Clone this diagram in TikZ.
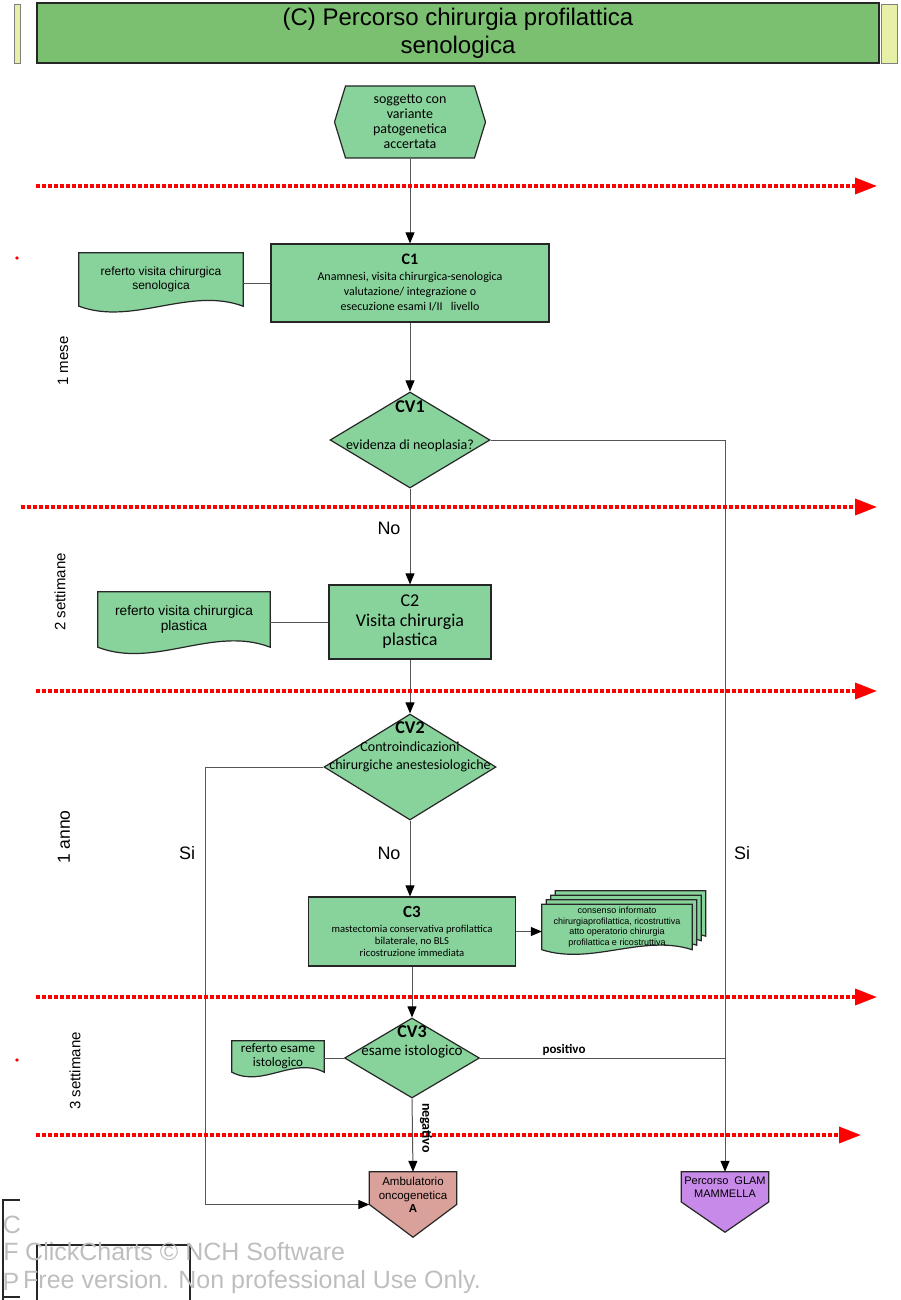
\documentclass[tikz,border=0pt]{standalone}
\usepackage{fontspec}
\setmainfont{Liberation Sans}
\newfontfamily\calib{Carlito}
\usepackage{tikz}
\usetikzlibrary{positioning,calc,arrows.meta,shapes.geometric,shapes.symbols,backgrounds}

\definecolor{boxgreen}{RGB}{136,210,155}
\definecolor{titlegreen}{RGB}{122,192,112}
\definecolor{sliver}{RGB}{232,240,168}
\definecolor{ambpink}{RGB}{218,160,154}
\definecolor{glampurple}{RGB}{200,138,232}
\definecolor{wmgray}{RGB}{190,190,190}
\definecolor{linegray}{RGB}{85,85,85}

% document shape with a wavy bottom, drawn behind node #2
\newcommand{\wavydoc}[3][0]{%
  \begin{pgfonlayer}{background}
  \filldraw[docshape] ($(#2.north west)+(#1,-#1)$) -- ($(#2.north east)+(#1,-#1)$) -- ($(#2.south east)+(#1,-#1)$)
    .. controls ($(#2.south east)!0.33!(#2.south west)+(#1,-#1-#3)$) and ($(#2.south east)!0.67!(#2.south west)+(#1,-#1+#3)$) .. ($(#2.south west)+(#1,-#1)$) -- cycle;
  \end{pgfonlayer}}
% off-page connector (pentagon pointing down)
\newcommand{\offpage}[2]{%
  \filldraw[draw=black!85,line width=1.2pt,fill=#2] (#1.north west) -- (#1.north east) -- (#1.east) -- (#1.south) -- (#1.west) -- cycle;}

\begin{document}
\begin{tikzpicture}[x=1pt,y=-1pt,>={Triangle[length=11pt,width=9pt,color=black]},
    box/.style={draw=black!85,line width=1.2pt,fill=boxgreen,align=center,inner sep=1pt,
      font=\calib\fontsize{12}{15}\selectfont},
    hexa/.style={signal,signal to=east and west,signal pointer angle=146,draw=black!85,line width=1.2pt,
      fill=boxgreen,align=center,inner sep=1pt,minimum width=151pt,minimum height=72pt,
      font=\calib\fontsize{14}{15}\selectfont},
    decision/.style={diamond,draw=black!85,line width=1.2pt,fill=boxgreen,inner sep=0pt},
    dectext/.style={align=center,font=\calib\fontsize{14}{18}\selectfont},
    dechead/.style={font=\calib\fontsize{18}{18}\selectfont\bfseries},
    doc/.style={align=center,inner sep=0pt,font=\fontsize{12}{13.5}\selectfont},
    docshape/.style={draw=black!85,line width=1.2pt,fill=boxgreen},
    exit/.style={inner sep=0pt,minimum width=87pt},
    exittext/.style={align=center,font=\fontsize{11.5}{13.5}\selectfont},
    link/.style={draw=linegray,line width=1pt},
    lbl/.style={font=\fontsize{18}{18}\selectfont},
    period/.style={rotate=90,font=\fontsize{15}{15}\selectfont},
    timeline/.style={draw=red,line width=3.5pt,dash pattern=on 3.5pt off 2.5pt,
      -{Triangle[length=22pt,width=16pt]}},
    wm/.style={text=wmgray,font=\fontsize{25}{30}\selectfont,inner sep=0pt}]
\useasboundingbox (0,0) rectangle (900,1300);

% title
\filldraw[fill=sliver,draw=gray] (14,4) rectangle (20,63);
\filldraw[fill=sliver,draw=gray] (881,4) rectangle (897,63);
\node[draw=black!85,line width=1.5pt,fill=titlegreen,minimum width=842pt,minimum height=60pt,
  align=center,font=\fontsize{24}{28}\selectfont] (title) at (458,33)
  {(C) Percorso chirurgia profilattica\\senologica};

% main column
\node[hexa] (start) at (410,122) {soggetto con\\variante\\patogenetica\\accertata};
\node[box,minimum width=278pt,minimum height=78pt] (c1) at (410,283)
  {{\fontsize{16}{16}\selectfont\bfseries C1}\\[1pt]Anamnesi, visita chirurgica-senologica\\valutazione/ integrazione o\\esecuzione esami I/II \ \ livello};
\node[decision,minimum width=160pt,minimum height=96pt] (cv1) at (410,440) {};
\node[dechead] (cv1h) at ($(cv1.center)+(0,-33)$) {CV1};
\node[dectext] (cv1t) at ($(cv1.center)+(0,6)$) {evidenza di neoplasia?};
\node[box,minimum width=162pt,minimum height=74pt,font=\calib\fontsize{18}{19.5}\selectfont] (c2) at (410,622)
  {C2\\Visita chirurgia\\plastica};
\node[decision,minimum width=172pt,minimum height=106pt] (cv2) at (410,767) {};
\node[dechead] (cv2h) at ($(cv2.center)+(0,-39)$) {CV2};
\node[dectext] (cv2t) at ($(cv2.center)+(0,-10)$) {Controindicazioni\\chirurgiche anestesiologiche};
\node[box,minimum width=207pt,minimum height=69pt,font=\calib\fontsize{10.6}{12}\selectfont] (c3) at (412,931.5)
  {{\fontsize{17}{17}\selectfont\bfseries C3}\\[3pt]mastectomia conservativa profilattica\\bilaterale, no BLS\\ricostruzione immediata};
\node[decision,minimum width=135pt,minimum height=80pt] (cv3) at (412,1058) {};
\node[dechead] (cv3h) at ($(cv3.center)+(0,-26)$) {CV3};
\node[dectext,font=\calib\fontsize{15}{18}\selectfont] (cv3t) at ($(cv3.center)+(0,-6)$) {esame istologico};

% exits
\node[exit,minimum height=65pt] (amb) at (413,1204.5) {};
\offpage{amb}{ambpink}
\node[exittext] (ambt) at (413,1195) {Ambulatorio\\oncogenetica\\\textbf{A}};
\node[exit,minimum height=60pt] (glam) at (725,1202) {};
\offpage{glam}{glampurple}
\node[exittext,font=\fontsize{11}{12.5}\selectfont] (glamt) at (725,1187) {Percorso\ \ GLAM\\MAMMELLA};

% documents
\node[doc,minimum width=164pt,minimum height=53pt] (r1) at (161,279.5) {referto visita chirurgica\\senologica};
\wavydoc{r1}{20}
\node[doc,minimum width=172pt,minimum height=55pt,font=\fontsize{13.7}{15.7}\selectfont] (r2) at (184,619.5)
  {referto visita chirurgica\\plastica};
\wavydoc{r2}{22}
\node[doc,minimum width=92pt,minimum height=31pt,font=\calib\fontsize{13}{14}\selectfont] (r3) at (278,1056.5)
  {referto esame\\istologico};
\wavydoc{r3}{16}
\node[doc,minimum width=150pt,minimum height=45pt,font=\fontsize{9}{10.5}\selectfont] (cons) at (617,927)
  {consenso informato\\chirurgiaprofilattica, ricostruttiva\\atto operatorio chirurgia\\profilattica e ricostruttiva};
\foreach \k in {13.5,9,4.5,0}{\wavydoc[\k]{cons}{16}}

% connectors
\coordinate (sicorner) at (205,1204.5);
\draw[link,->] (start.south) -- (c1.north);
\draw[link] (c1.west) -- (c1.west -| r1.east);
\draw[link,->] (c1) -- (cv1);
\draw[link,->] (cv1.east) -| (glam.north);
\draw[link,->] (cv1) -- (c2);
\draw[link] (c2.west) -- (c2.west -| r2.east);
\draw[link,->] (c2) -- (cv2);
\draw[link,->] (cv2.west) -| (sicorner) -- (amb.west);
\draw[link,->] (cv2.south) -- (cv2.south |- c3.north);
\draw[link,->] (c3.east) -- (c3.east -| cons.west);
\draw[link,->] (c3) -- (cv3);
\draw[link] (cv3.west) -- (cv3.west -| r3.east);
\draw[link] (cv3.east) -- (cv3.east -| glam.north);
\draw[link,->] (cv3.south) -- (amb.north);

% labels
\node[lbl] (no1) at (389,528) {No};
\node[lbl] (no2) at (389,853) {No};
\node[lbl] (si1) at (187,853) {Si};
\node[lbl] (si2) at (742,853) {Si};
\node[font=\calib\fontsize{13}{13}\selectfont\bfseries] (pos) at (564,1050) {positivo};

% time bands
\node[period] (t1) at (63,361) {1 mese};
\node[period] (t2) at (60,592) {2 settimane};
\node[period,font=\fontsize{17.5}{17.5}\selectfont] (t3) at (64,837) {1 anno};
\node[period] (t4) at (75,1071) {3 settimane};
\fill[red] (17,258) circle (1.8pt);
\fill[red] (17,1060) circle (1.8pt);
\foreach \ya/\xa/\xb in {186/36/877,507/21/877,691/36/877,997/36/877,1135/36/861}
  \draw[timeline] (\xa,\ya) -- (\xb,\ya);
\node[rotate=-90,font=\calib\fontsize{14}{14}\selectfont\bfseries] (neg) at (426,1128) {negativo};

% watermark
\draw[black!85,line width=1.2pt] (20,1200) -- (3,1200) -- (3,1300);
\draw[black!85,line width=1.2pt] (3,1297) -- (20,1297);
\draw[black!85,line width=1.2pt] (37,1300) -- (37,1245) -- (190,1245) -- (190,1300);
\node[wm] (wmc) at (12,1225) {C};
\node[wm] (wmf) at (11,1252) {F};
\node[wm] (wmp) at (11,1282) {P};
\node[wm,anchor=west] (wm1) at (25,1252) {ClickCharts © NCH Software};
\node[wm,anchor=west] (wm2) at (23,1282) {Free version. Non professional Use Only.};
\end{tikzpicture}
\end{document}
